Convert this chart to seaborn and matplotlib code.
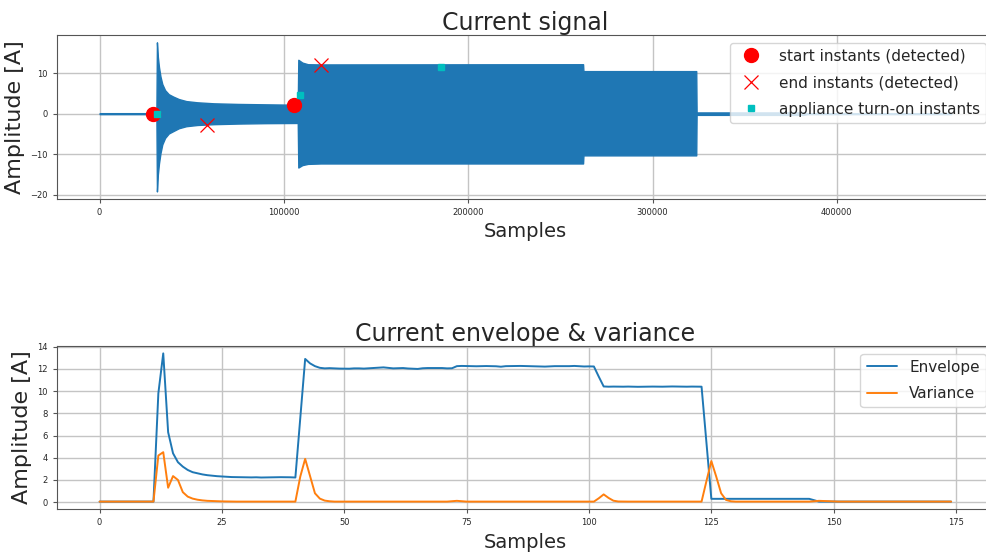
import matplotlib
matplotlib.use("Agg")
import matplotlib.pyplot as plt
import seaborn as sns
import pandas as pd

# --- top panel: outline of the raw current signal ---
signal_samples = [0, 30800, 31100, 31600, 32200, 33000, 34000, 35500, 37500,
                  40000, 43000, 47000, 53000, 62000, 75000, 90000, 107500,
                  107800, 110000, 113000, 120000, 262300, 262500,
                  323700, 323900, 382000, 384000, 462000]
signal_upper = [0.12, 0.12, 17.6, 14.0, 11.5, 9.2, 7.3, 5.8, 4.8,
                4.2, 3.6, 3.1, 2.8, 2.55, 2.4, 2.3, 2.2,
                13.3, 12.6, 12.2, 12.15, 12.2, 10.5,
                10.5, 0.3, 0.3, 0.12, 0.12]
signal_lower = [-0.12, -0.12, -19.2, -15.0, -12.3, -9.8, -7.6, -6.0, -4.9,
                -4.3, -3.6, -3.1, -2.8, -2.6, -2.45, -2.35, -2.3,
                -13.3, -12.7, -12.4, -12.3, -12.3, -10.3,
                -10.3, -0.3, -0.3, -0.12, -0.12]

start_x = [28760, 105600]
start_y = [0.0, 2.1]
end_x = [58400, 119900]
end_y = [-2.7, 11.9]
turn_on_x = [31300, 108500, 185300]
turn_on_y = [0.0, 4.5, 11.6]

# --- bottom panel: envelope and variance per window ---
envelope = [
    0.05, 0.05, 0.05, 0.05, 0.05, 0.05, 0.05, 0.05, 0.05, 0.05, 0.05, 0.05,
    9.8, 13.4, 6.3, 4.4, 3.6, 3.2, 2.9, 2.7, 2.6, 2.5, 2.43, 2.38,
    2.34, 2.31, 2.28, 2.26, 2.25, 2.24, 2.24, 2.23, 2.24, 2.22, 2.23, 2.24,
    2.24, 2.25, 2.25, 2.24, 2.22,
    7.5, 12.9, 12.5, 12.25, 12.1, 12.05, 12.07, 12.05, 12.03, 12.03, 12.02,
    12.05, 12.05, 12.03, 12.06, 12.08, 12.12, 12.14, 12.1, 12.05, 12.07,
    12.08, 12.04, 12.02, 12.0, 12.06, 12.08, 12.08, 12.07, 12.08, 12.05,
    12.06, 12.25, 12.27, 12.26, 12.25, 12.24, 12.25, 12.26, 12.25, 12.24,
    12.2, 12.25, 12.26, 12.26, 12.27, 12.26, 12.26, 12.25, 12.24, 12.21,
    12.23, 12.25, 12.25, 12.26, 12.25, 12.27, 12.25, 12.22, 12.23, 12.22,
    11.3, 10.42, 10.4, 10.41, 10.4, 10.4, 10.41, 10.4, 10.39, 10.4, 10.4,
    10.41, 10.4, 10.4, 10.41, 10.42, 10.41, 10.4, 10.4, 10.41, 10.4, 10.4,
    5.3, 0.3, 0.3, 0.3, 0.3, 0.3, 0.3, 0.3, 0.3, 0.3, 0.3, 0.3,
    0.3, 0.3, 0.3, 0.3, 0.3, 0.3, 0.3, 0.3, 0.3, 0.3,
    0.17,
    0.05, 0.05, 0.05, 0.05, 0.05, 0.05, 0.05, 0.05, 0.05, 0.05, 0.05, 0.05,
    0.05, 0.05, 0.05, 0.05, 0.05, 0.05, 0.05, 0.05, 0.05, 0.05, 0.05, 0.05,
    0.05, 0.05, 0.05, 0.05,
]
variance = [
    0.05, 0.05, 0.05, 0.05, 0.05, 0.05, 0.05, 0.05, 0.05, 0.05, 0.05, 0.05,
    4.2, 4.5, 1.3, 2.35, 2.0, 0.9, 0.5, 0.32, 0.22, 0.16, 0.12, 0.1,
    0.08, 0.07, 0.06, 0.06, 0.05, 0.05, 0.05, 0.05, 0.05, 0.05, 0.05, 0.05,
    0.05, 0.05, 0.05, 0.05, 0.05,
    2.3, 3.9, 2.35, 0.8, 0.32, 0.14, 0.08, 0.05, 0.05, 0.05, 0.05,
    0.05, 0.05, 0.05, 0.05, 0.06, 0.06, 0.05, 0.05, 0.06, 0.05,
    0.05, 0.05, 0.05, 0.05, 0.05, 0.06, 0.05, 0.05, 0.05, 0.05,
    0.08, 0.12, 0.08, 0.05, 0.05, 0.05, 0.05, 0.05, 0.05, 0.05,
    0.05, 0.05, 0.05, 0.05, 0.05, 0.05, 0.05, 0.05, 0.05, 0.05,
    0.05, 0.05, 0.05, 0.05, 0.05, 0.05, 0.05, 0.05, 0.05, 0.05,
    0.35, 0.7, 0.38, 0.13, 0.06, 0.05, 0.05, 0.05, 0.05, 0.05, 0.05,
    0.05, 0.05, 0.05, 0.05, 0.05, 0.05, 0.05, 0.05, 0.05, 0.05, 0.05,
    1.9, 3.7, 2.3, 0.8, 0.2, 0.08, 0.05, 0.05, 0.05, 0.05, 0.05, 0.05,
    0.05, 0.05, 0.05, 0.05, 0.05, 0.05, 0.05, 0.05, 0.05, 0.05,
    0.08,
    0.12, 0.1, 0.07, 0.05, 0.05, 0.05, 0.05, 0.05, 0.05, 0.05, 0.05, 0.05,
    0.05, 0.05, 0.05, 0.05, 0.05, 0.05, 0.05, 0.05, 0.05, 0.05, 0.05, 0.05,
    0.05, 0.05, 0.05, 0.05,
]

sns.set_style("ticks", {"axes.grid": True, "grid.color": "#c4c4c4",
                        "axes.edgecolor": "#555555"})
plt.rcParams["font.family"] = ["DejaVu Sans"]

df_env = pd.DataFrame({"window": range(len(envelope)),
                       "Envelope": envelope, "Variance": variance})

fig = plt.figure(figsize=(9.87, 5.54), dpi=100)
ax1 = fig.add_axes([0.0578, 0.641, 0.949, 0.296])
ax2 = fig.add_axes([0.0578, 0.0812, 0.949, 0.2943])

# top panel
ax1.fill_between(signal_samples, signal_lower, signal_upper,
                 color="#1f77b4", linewidth=1.0, edgecolor="#1f77b4")
h_start, = ax1.plot(start_x, start_y, "o", color="red", ms=10,
                    label="start instants (detected)")
h_end, = ax1.plot(end_x, end_y, "x", color="red", ms=10, mew=0.9,
                  label="end instants (detected)")
h_on, = ax1.plot(turn_on_x, turn_on_y, "s", color="c", ms=4,
                 label="appliance turn-on instants")
ax1.set_xlim(-0.05 * signal_samples[-1], 1.05 * signal_samples[-1])
ax1.set_yticks([-20, -10, 0, 10])
ax1.set_title("Current signal", fontsize=17, pad=3)
ax1.set_xlabel("Samples", fontsize=14)
ax1.set_ylabel("Amplitude [A]", fontsize=16)
ax1.legend(handles=[h_start, h_end, h_on], loc="upper right", fontsize=11,
           labelspacing=0.75, frameon=True, framealpha=0.8,
           edgecolor="#cccccc", fancybox=True)

# bottom panel
sns.lineplot(data=df_env, x="window", y="Envelope", ax=ax2,
             color="#1f77b4", linewidth=1.4, label="Envelope")
sns.lineplot(data=df_env, x="window", y="Variance", ax=ax2,
             color="#ff7f0e", linewidth=1.4, label="Variance")
ax2.set_yticks(range(0, 15, 2))
ax2.set_title("Current envelope & variance", fontsize=17, pad=3)
ax2.set_xlabel("Samples", fontsize=14)
ax2.set_ylabel("Amplitude [A]", fontsize=16)
ax2.legend(loc="upper right", fontsize=11, labelspacing=0.75, frameon=True,
           framealpha=0.8, edgecolor="#cccccc", fancybox=True)

for ax in (ax1, ax2):
    ax.tick_params(labelsize=6, length=3, width=0.8, color="#555555",
                   labelcolor="#262626")
    ax.grid(True, color="#c4c4c4", linewidth=1.0)
    for side in ["top", "right", "left", "bottom"]:
        ax.spines[side].set_visible(True)
        ax.spines[side].set_color("#555555")

fig.savefig("out.png", dpi=100)
